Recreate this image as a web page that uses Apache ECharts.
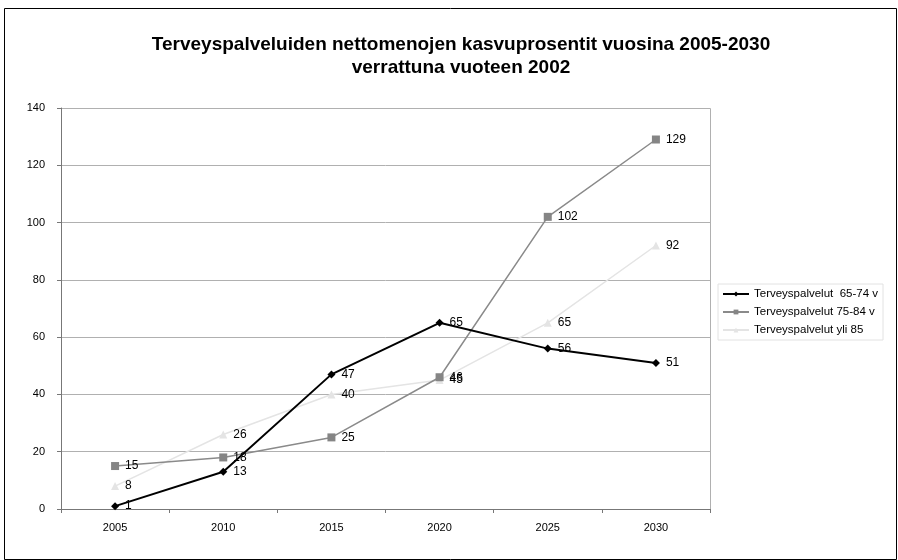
<!DOCTYPE html>
<html>
<head>
<meta charset="utf-8">
<script src="https://cdn.jsdelivr.net/npm/echarts@6/dist/echarts.min.js"></script>
<style>
  html, body { margin: 0; padding: 0; background: #fff; }
  #main { width: 898px; height: 560px; }
</style>
</head>
<body>
<div id="main"></div>
<script>
// Data
const years = ["2005", "2010", "2015", "2020", "2025", "2030"];
const sarja6574 = [1, 13, 47, 65, 56, 51];
const sarja7584 = [15, 18, 25, 46, 102, 129];
const sarjaYli85 = [8, 26, 40, 45, 65, 92];
const seriesNames = ["Terveyspalvelut  65-74 v", "Terveyspalvelut 75-84 v", "Terveyspalvelut yli 85"];

const fontFam = "'Liberation Sans', Arial, sans-serif";

const initChart = () => {
  const myChart = echarts.init(document.getElementById("main"));

  const labelStyle = {
    show: true,
    position: "right",
    distance: 6,
    color: "#000",
    fontSize: 12,
    fontFamily: fontFam,
  };

  const option = {
    animation: false,
    backgroundColor: "#fff",
    title: {
      text: "Terveyspalveluiden nettomenojen kasvuprosentit vuosina 2005-2030\nverrattuna vuoteen 2002",
      left: 456,
      top: 28,
      textAlign: "center",
      textStyle: {
        fontFamily: fontFam,
        fontSize: 19,
        fontWeight: "bold",
        color: "#000",
        lineHeight: 23,
      },
    },
    legend: {
      orient: "vertical",
      left: 718,
      top: 284,
      itemWidth: 26,
      itemHeight: 6,
      itemGap: 6,
      padding: [4, 5, 4, 4],
      borderColor: "#e2e2e2",
      borderWidth: 1,
      textStyle: { fontFamily: fontFam, fontSize: 11.5, color: "#000" },
      data: seriesNames,
    },
    grid: { left: 61, right: 188, top: 108, bottom: 51 },
    xAxis: {
      type: "category",
      data: years,
      boundaryGap: true,
      axisLine: { lineStyle: { color: "#777", width: 1 } },
      axisTick: { show: true, length: 4, lineStyle: { color: "#777" } },
      axisLabel: { color: "#000", fontSize: 11, fontFamily: fontFam, margin: 13 },
    },
    yAxis: {
      type: "value",
      min: 0,
      max: 140,
      interval: 20,
      axisLine: { show: true, lineStyle: { color: "#777", width: 1 } },
      axisTick: { show: true, length: 4, lineStyle: { color: "#777" } },
      axisLabel: { color: "#000", fontSize: 11, fontFamily: fontFam, margin: 16 },
      splitLine: { lineStyle: { color: "#b0b0b0", width: 1 } },
    },
    graphic: [
      {
        type: "rect",
        shape: { x: 4.5, y: 8.5, width: 892, height: 551 },
        style: { fill: "none", stroke: "#000", lineWidth: 1 },
        silent: true,
      },
      {
        type: "rect",
        shape: { x: 61.5, y: 108.5, width: 649, height: 401 },
        style: { fill: "none", stroke: "#b0b0b0", lineWidth: 1 },
        silent: true,
        z: -1,
      },
    ],
    series: [
      {
        name: seriesNames[0],
        type: "line",
        data: sarja6574,
        symbol: "diamond",
        symbolSize: 8,
        lineStyle: { color: "#000", width: 2 },
        itemStyle: { color: "#000" },
        label: labelStyle,
        z: 4,
      },
      {
        name: seriesNames[1],
        type: "line",
        data: sarja7584,
        symbol: "rect",
        symbolSize: 8,
        lineStyle: { color: "#8a8a8a", width: 1.5 },
        itemStyle: { color: "#858585" },
        label: labelStyle,
        z: 3,
      },
      {
        name: seriesNames[2],
        type: "line",
        data: sarjaYli85,
        symbol: "triangle",
        symbolSize: 8,
        lineStyle: { color: "#e4e4e4", width: 1.5 },
        itemStyle: { color: "#e4e4e4" },
        label: labelStyle,
        z: 2,
      },
    ],
  };

  myChart.setOption(option);
  return myChart;
};

let chartInstance = initChart();
</script>
</body>
</html>
